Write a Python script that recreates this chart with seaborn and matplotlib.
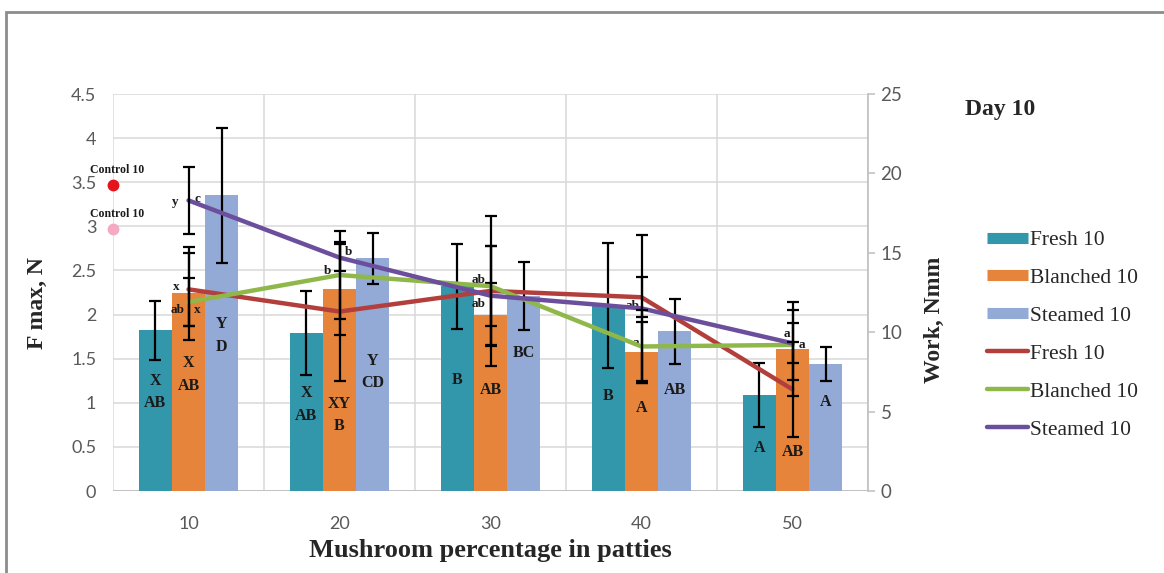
import numpy as np
import pandas as pd
import matplotlib
matplotlib.use("Agg")
import matplotlib.pyplot as plt
from matplotlib.lines import Line2D
from matplotlib.patches import Rectangle
from matplotlib.ticker import FuncFormatter, MultipleLocator
import seaborn as sns

# ---- data -------------------------------------------------------------
percentages = ["10", "20", "30", "40", "50"]
treatments = ["Fresh 10", "Blanched 10", "Steamed 10"]

# maximum force (N), bars
fmax_fresh = [1.82, 1.79, 2.32, 2.10, 1.09]
fmax_blanched = [2.24, 2.29, 2.00, 1.57, 1.61]
fmax_steamed = [3.35, 2.64, 2.21, 1.81, 1.44]
fmax_err_fresh = [0.33, 0.48, 0.48, 0.71, 0.36]
fmax_err_blanched = [0.53, 0.52, 0.36, 0.35, 0.53]
fmax_err_steamed = [0.76, 0.29, 0.39, 0.37, 0.19]

# work (N mm), lines
work_fresh = [12.7, 11.3, 12.6, 12.2, 6.4]
work_blanched = [11.9, 13.6, 12.9, 9.1, 9.2]
work_steamed = [18.3, 14.7, 12.3, 11.5, 9.3]
work_err_fresh = [2.3, 4.4, 4.7, 1.25, 3.0]
work_err_blanched = [1.5, 2.8, 2.5, 2.3, 2.2]
work_err_steamed = [2.1, 0.85, 3.1, 4.6, 1.25]

# control samples (F max, N)
control_labels = ["Control 10", "Control 10"]
control_values = [3.47, 2.97]

# significance letters inside the bars
letters_fresh = ["X\nAB", "X\nAB", "B", "B", "A"]
letters_blanched = ["X\nAB", "XY\nB", "AB", "A", "AB"]
letters_steamed = ["Y\nD", "Y\nCD", "BC", "AB", "A"]
letters_y_fresh = [1.12, 0.98, 1.26, 1.08, 0.49]
letters_y_blanched = [1.32, 0.86, 1.15, 0.94, 0.44]
letters_y_steamed = [1.76, 1.35, 1.56, 1.15, 1.01]

# letters beside the work curves: (text, x position, F max scale height)
curve_letters = [
    ("y", -0.09, 3.28), ("c", 0.06, 3.31), ("x", -0.08, 2.31),
    ("ab", -0.07, 2.05), ("x", 0.06, 2.05),
    ("b", 1.06, 2.71), ("b", 0.92, 2.49),
    ("ab", 1.92, 2.39), ("ab", 1.92, 2.12),
    ("ab", 2.94, 2.10), ("a", 2.96, 1.68),
    ("a", 3.96, 1.78), ("a", 4.06, 1.66),
]

bar_colors = ["#3397ab", "#e5843a", "#93a9d6"]
line_colors = ["#b23f3b", "#8fb74a", "#6c4f9c"]
control_colors = ["#e5141c", "#f5a9c3"]

# ---- frames -----------------------------------------------------------
fmax_df = pd.DataFrame({
    "pct": percentages * 3,
    "treatment": np.repeat(treatments, len(percentages)),
    "fmax": fmax_fresh + fmax_blanched + fmax_steamed,
})
pos = np.arange(len(percentages))
work_df = pd.DataFrame({
    "pos": np.tile(pos, 3),
    "treatment": np.repeat(treatments, len(percentages)),
    "work": work_fresh + work_blanched + work_steamed,
})

# ---- style ------------------------------------------------------------
sns.set_style("white")
plt.rcParams["font.family"] = ["Liberation Serif", "DejaVu Serif"]
TICK_FONT = "Lato"
GRID = "#d9d9d9"
TICK_COLOR = "#595959"

W, H = 1164, 573
fig = plt.figure(figsize=(W / 100, H / 100), dpi=100)
L, R, T, B = 113, 868, 94, 491
ax = fig.add_axes([L / W, 1 - B / H, (R - L) / W, (B - T) / H])

sns.barplot(data=fmax_df, x="pct", y="fmax", hue="treatment",
            order=percentages, hue_order=treatments,
            palette=bar_colors, width=0.66, saturation=1, linewidth=0,
            errorbar=None, legend=False, ax=ax, zorder=2)

ax.set_xlim(-0.5, len(percentages) - 0.5)
ax.set_ylim(0, 4.5)
ax.yaxis.set_major_locator(MultipleLocator(0.5))
ax.yaxis.set_major_formatter(FuncFormatter(lambda v, _: f"{v:g}"))
ax.set_xticks(pos, percentages)
ax.set_xlabel("")
ax.set_ylabel("")
for s in ax.spines.values():
    s.set_visible(False)

# gridlines: horizontal at each tick, vertical at category boundaries
for v in np.arange(0, 4.51, 0.5):
    ax.axhline(v, color=GRID, lw=1.1, zorder=0)
for b in np.arange(-0.5, len(percentages), 1.0):
    ax.axvline(b, color=GRID, lw=1.1, zorder=0)
ax.axhline(0, color="#bfbfbf", lw=1.3, zorder=1)

ax.tick_params(axis="both", length=0, labelcolor=TICK_COLOR, labelsize=13)
ax.tick_params(axis="x", pad=18)
ax.tick_params(axis="y", pad=12)
for lab in ax.get_xticklabels() + ax.get_yticklabels():
    lab.set_fontfamily(TICK_FONT)

# error bars and letters on the bars
bar_errs = [fmax_err_fresh, fmax_err_blanched, fmax_err_steamed]
bar_letters = [letters_fresh, letters_blanched, letters_steamed]
bar_letter_y = [letters_y_fresh, letters_y_blanched, letters_y_steamed]
for cont, errs, texts, ys in zip(ax.containers, bar_errs, bar_letters, bar_letter_y):
    xs = [p.get_x() + p.get_width() / 2 for p in cont]
    hs = [p.get_height() for p in cont]
    ax.errorbar(xs, hs, yerr=errs, fmt="none", ecolor="black",
                elinewidth=1.6, capsize=4, capthick=1.6, zorder=3)
    for x, t, y in zip(xs, texts, ys):
        ax.text(x, y, t, ha="center", va="center", fontsize=11.5,
                fontweight="bold", color="#1a1a1a", linespacing=1.55, zorder=4)

# control markers on the left edge
for lab, val, col in zip(control_labels, control_values, control_colors):
    ax.plot(-0.5, val, "o", color=col, ms=7.5, clip_on=False, zorder=5)
    ax.text(-0.47, val + 0.165, lab, ha="center", va="center", fontsize=8.5,
            fontweight="bold", color="#1a1a1a", zorder=5)

# ---- work curves on the secondary axis -------------------------------
ax2 = ax.twinx()
sns.lineplot(data=work_df, x="pos", y="work", hue="treatment",
             hue_order=treatments, palette=line_colors, lw=3.2,
             legend=False, sort=False, ax=ax2, zorder=3)
line_errs = [work_err_fresh, work_err_blanched, work_err_steamed]
for vals, errs in zip([work_fresh, work_blanched, work_steamed], line_errs):
    ax2.errorbar(pos, vals, yerr=errs, fmt="none", ecolor="black",
                 elinewidth=1.6, capsize=4, capthick=1.6, zorder=4)

ax2.set_ylim(0, 25)
ax2.set_xlim(-0.5, len(percentages) - 0.5)
ax2.yaxis.set_major_locator(MultipleLocator(5))
ax2.set_xlabel("")
ax2.set_ylabel("")
for name, s in ax2.spines.items():
    s.set_visible(name == "right")
ax2.spines["right"].set_color("#bfbfbf")
ax2.spines["right"].set_linewidth(1.2)
ax2.tick_params(axis="y", length=5, width=1.1, color="#bfbfbf",
                direction="out", labelcolor=TICK_COLOR, labelsize=13.5, pad=4)
for lab in ax2.get_yticklabels():
    lab.set_fontfamily(TICK_FONT)

# letters beside the curves (placed on the F max scale)
for t, x, y in curve_letters:
    ax.text(x, y, t, ha="center", va="center", fontsize=9.5,
            fontweight="bold", color="#1a1a1a", zorder=6)

# ---- titles, labels, legend ------------------------------------------
fig.text(37 / W, 1 - 303 / H, "F max, N", rotation=90, ha="center",
         va="center", fontsize=17, fontweight="bold")
fig.text(934 / W, 1 - 320 / H, "Work, Nmm", rotation=90, ha="center",
         va="center", fontsize=17, fontweight="bold")
fig.text(490 / W, 1 - 551 / H, "Mushroom percentage in patties",
         ha="center", va="center", fontsize=19, fontweight="bold")
fig.text(1000 / W, 1 - 110 / H, "Day 10", ha="center", va="center",
         fontsize=17, fontweight="bold")

handles = [Line2D([0], [0], color=c, lw=8, solid_capstyle="butt") for c in bar_colors]
handles += [Line2D([0], [0], color=c, lw=3.2) for c in line_colors]
fig.legend(handles, treatments + treatments, loc="upper left",
           bbox_to_anchor=(987 / W, 1 - 230 / H), frameon=False,
           fontsize=15.5, handlelength=1.9, handletextpad=0.1,
           labelspacing=0.83, borderpad=0, borderaxespad=0)

# outer frame
fig.add_artist(Rectangle((6 / W, -0.1), 1.2, 1.1 - 12 / H, fill=False,
                         edgecolor="#8c8c8c", lw=2, transform=fig.transFigure))

fig.savefig("out.png", dpi=100)
